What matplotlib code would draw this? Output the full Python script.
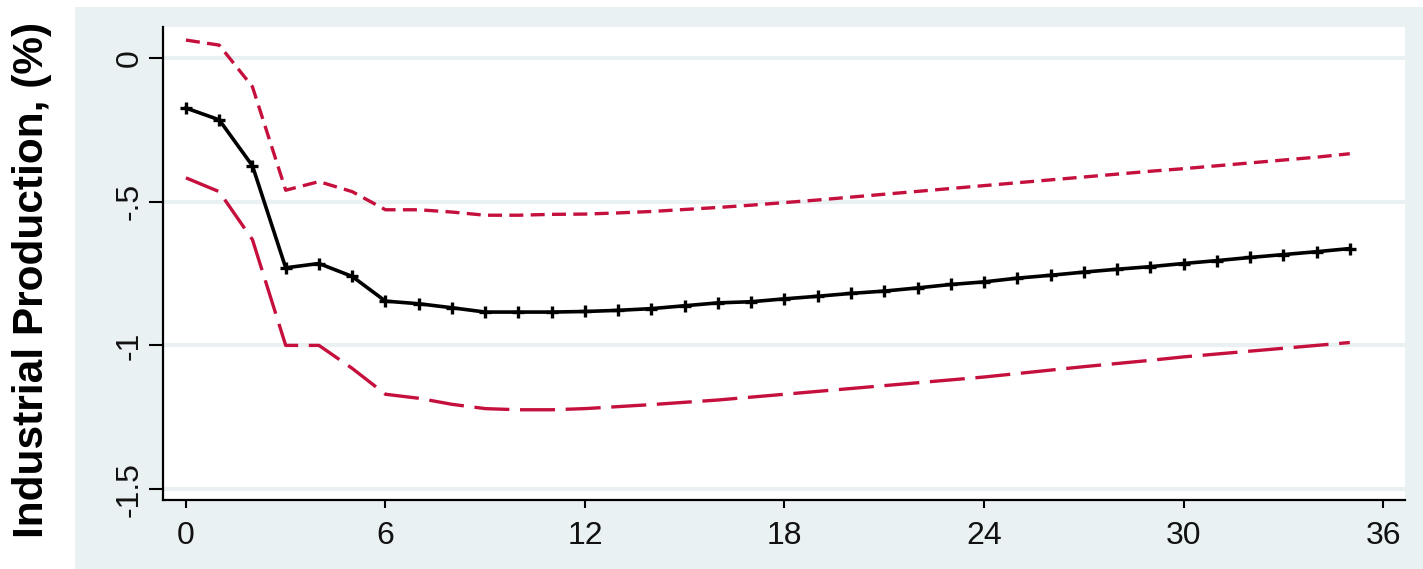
import matplotlib
matplotlib.use("Agg")
import matplotlib.pyplot as plt
from matplotlib.patches import Rectangle

horizon = list(range(36))
irf = [-0.174, -0.215, -0.375, -0.73, -0.715, -0.76, -0.846, -0.855, -0.869, -0.884,
       -0.884, -0.884, -0.882, -0.878, -0.872, -0.862, -0.852, -0.848, -0.838, -0.829,
       -0.819, -0.811, -0.800, -0.788, -0.779, -0.766, -0.756, -0.745, -0.735, -0.726,
       -0.715, -0.705, -0.694, -0.684, -0.674, -0.663]
upper = [0.0625, 0.045, -0.10, -0.46, -0.43, -0.465, -0.528, -0.528, -0.536, -0.547,
         -0.547, -0.544, -0.543, -0.539, -0.534, -0.527, -0.520, -0.512, -0.503, -0.494,
         -0.484, -0.474, -0.464, -0.454, -0.444, -0.434, -0.424, -0.414, -0.404, -0.394,
         -0.385, -0.375, -0.365, -0.355, -0.345, -0.333]
lower = [-0.417, -0.465, -0.632, -1.0, -1.0, -1.08, -1.170, -1.184, -1.205, -1.220,
         -1.224, -1.224, -1.220, -1.213, -1.206, -1.198, -1.19, -1.18, -1.17, -1.16,
         -1.15, -1.14, -1.13, -1.12, -1.11, -1.098, -1.086, -1.074, -1.063, -1.052,
         -1.04, -1.03, -1.02, -1.01, -1.0, -0.99]
xticks = [0, 6, 12, 18, 24, 30, 36]
yticks = [0, -0.5, -1, -1.5]
ytick_labels = ["0", "-.5", "-1", "-1.5"]
ylabel = "Industrial Production, (%)"

plt.rcParams['font.family'] = ['Liberation Sans', 'DejaVu Sans']

W, H = 1423, 569
fig = plt.figure(figsize=(W / 100, H / 100), dpi=100, facecolor='white')
bg = '#EAF1F3'
fig.patches.append(Rectangle((75 / W, 0), 1 - 75 / W, 1 - 7 / H, transform=fig.transFigure,
                             facecolor=bg, edgecolor='none', zorder=-10))

ax = fig.add_axes([163 / W, 69 / H, (1405 - 163) / W, (500 - 27) / H])
ax.set_zorder(5)
ax.set_facecolor('white')
red = '#C50F3C'

for y in yticks:
    ax.axhline(y, color=bg, lw=3, zorder=1)

ax.plot(horizon, upper, color=red, lw=2.4, dashes=(4.2, 2.2), zorder=2)
ax.plot(horizon, lower, color=red, lw=2.4, dashes=(10.5, 3.2), zorder=2)
ax.plot(horizon, irf, color='black', lw=2.6, marker='+', markersize=9, mew=2.4, zorder=3)

ax.set_xlim(-0.69, 36.66)
ax.set_ylim(-1.538, 0.108)
ax.set_xticks(xticks)
ax.set_xticklabels([str(x) for x in xticks], fontsize=23, color='#111111')
ax.set_yticks(yticks)
ax.set_yticklabels(ytick_labels, fontsize=23, rotation=90, va='center', color='#111111')
ax.tick_params(axis='y', length=10, width=1.5, pad=3)
ax.tick_params(axis='x', length=6, width=1.5, pad=9)

for s in ['top', 'right']:
    ax.spines[s].set_visible(False)
for s in ['left', 'bottom']:
    ax.spines[s].set_linewidth(1.6)

fig.text(32 / W, 1 - 280 / H, ylabel, rotation=90, ha='center', va='center',
         fontsize=30.5, fontweight='bold')

fig.savefig('out.png', dpi=100, facecolor='white')
